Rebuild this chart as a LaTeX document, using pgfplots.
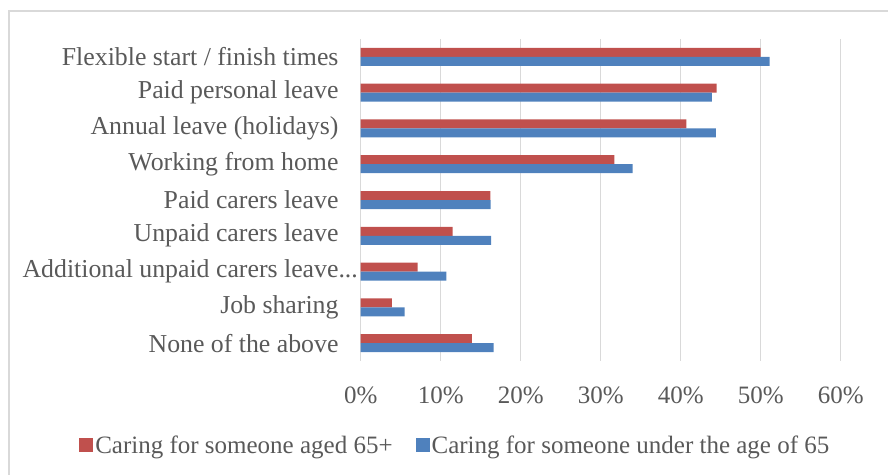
\documentclass[border=0pt]{standalone}
\usepackage{pgfplots}
\pgfplotsset{compat=1.18}
\usepackage{fontspec}
\setmainfont{Liberation Serif}
\definecolor{cred}{HTML}{C0504D}
\definecolor{cblue}{HTML}{4F81BD}
\definecolor{ctext}{HTML}{595959}
\definecolor{cgrid}{HTML}{D9D9D9}
\begin{document}
\begin{tikzpicture}[x=1pt,y=1pt]
\useasboundingbox (0,0) rectangle (888,474);
\draw[cgrid, line width=1.5pt] (9,-2) -- (9,463) -- (890,463);
\begin{axis}[
  at={(360.7pt,113pt)}, anchor=south west,
  scale only axis, width=480pt, height=322pt,
  xbar, bar width=9pt, y dir=reverse,
  xmin=0, xmax=60, ymin=-0.5, ymax=8.5,
  ytick={0,...,8},
  yticklabels={Flexible start / finish times, Paid personal leave, Annual leave (holidays), Working from home, Paid carers leave, Unpaid carers leave, Additional unpaid carers leave\rlap{...}, Job sharing, None of the above},
  xtick={0,10,...,60},
  xticklabels={0\%,10\%,20\%,30\%,40\%,50\%,60\%},
  font=\fontsize{25}{30}\selectfont,
  tick label style={text=ctext},
  yticklabel style={anchor=east, inner sep=0pt, xshift=-22pt, font=\fontsize{25.8}{30}\selectfont},
  xticklabel style={anchor=base, inner sep=0pt, yshift=-42pt},
  major tick length=0pt, tick style={draw=none},
  axis line style={draw=none},
  xmajorgrids, grid style={cgrid, line width=1.5pt},
  legend columns=2,
  legend style={at={(-0.593,-0.261)}, anchor=west, draw=none, fill=none,
    text=ctext, font=\fontsize{25}{30}\selectfont,
    /tikz/every even column/.append style={column sep=21pt},
    nodes={inner sep=2pt}},
  legend image code/.code={\fill[#1] (0pt,-7pt) rectangle (14pt,7pt);},
]
\addplot[fill=cred, draw=none, bar shift=4.5pt] coordinates {
(50.0,0) (44.5,1) (40.7,2) (31.7,3) (16.2,4) (11.5,5) (7.1,6) (3.9,7) (13.9,8)};
\addplot[fill=cblue, draw=none, bar shift=-4.5pt] coordinates {
(51.1,0) (43.9,1) (44.4,2) (34.0,3) (16.25,4) (16.3,5) (10.7,6) (5.5,7) (16.6,8)};
\legend{Caring for someone aged 65+, Caring for someone under the age of 65}
\end{axis}
\end{tikzpicture}
\end{document}
